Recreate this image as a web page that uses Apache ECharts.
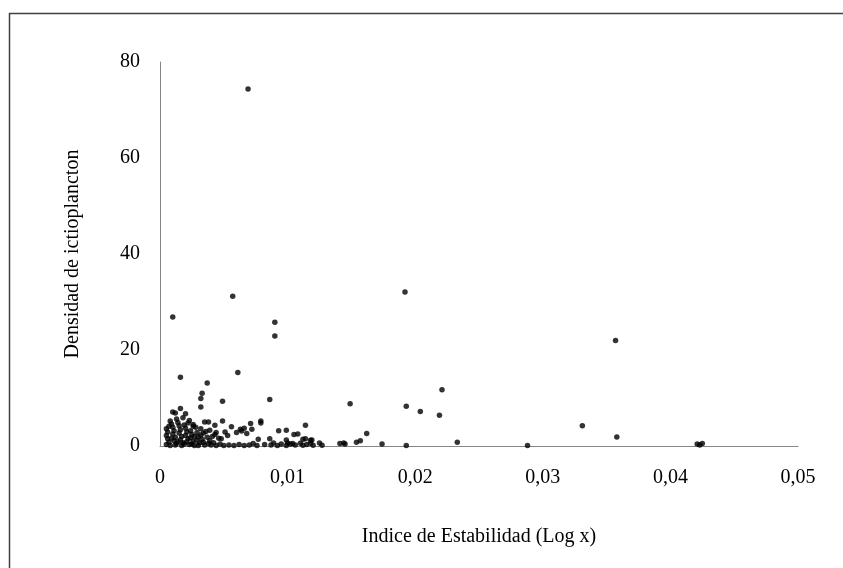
<!DOCTYPE html>
<html>
<head>
<meta charset="utf-8">
<script src="https://cdn.jsdelivr.net/npm/echarts@6/dist/echarts.min.js"></script>
<style>
html, body { margin: 0; padding: 0; background: #fff; }
#main { width: 843px; height: 568px; }
</style>
</head>
<body>
<div id="main"></div>
<script>
// ejes
var xTicks = [0, 0.01, 0.02, 0.03, 0.04, 0.05];
var yTicks = [0, 20, 40, 60, 80];

// puntos aislados (valores altos)
var highX = [0.0069, 0.0010, 0.0057, 0.0090, 0.0090, 0.0192, 0.0357, 0.0221, 0.0193, 0.0204, 0.0219, 0.0331, 0.0358, 0.0149, 0.0016, 0.0061, 0.0037, 0.0033, 0.0032, 0.0032, 0.0049, 0.0086];
var highY = [74.4, 26.9, 31.2, 25.8, 22.9, 32.1, 22.0, 11.7, 8.3, 7.2, 6.4, 4.2, 1.9, 8.8, 14.3, 15.3, 13.1, 11.0, 9.9, 8.1, 9.3, 9.7];

// grupo denso cerca de cero
var lowX = [0.0005, 0.0006, 0.0005, 0.0006, 0.0007, 0.0005, 0.0008, 0.0009, 0.0010, 0.0011, 0.0010, 0.0012, 0.0011, 0.0013, 0.0012,
            0.0014, 0.0015, 0.0016, 0.0015, 0.0017, 0.0016, 0.0018, 0.0017, 0.0019, 0.0020, 0.0021, 0.0020, 0.0022, 0.0021, 0.0023,
            0.0024, 0.0025, 0.0024, 0.0026, 0.0025, 0.0027, 0.0028, 0.0029, 0.0030, 0.0029, 0.0031, 0.0030, 0.0032, 0.0033, 0.0034,
            0.0035, 0.0036, 0.0037, 0.0038, 0.0039, 0.0040, 0.0041, 0.0042, 0.0044, 0.0046, 0.0047, 0.0013, 0.0018, 0.0008, 0.0022,
            0.0026, 0.0032, 0.0007, 0.0019, 0.0014, 0.0009, 0.0027, 0.0034, 0.0039, 0.0010, 0.0012, 0.0016, 0.0020, 0.0023, 0.0026,
            0.0035, 0.0038, 0.0049, 0.0056, 0.0063, 0.0066, 0.0071, 0.0060, 0.0064, 0.0072, 0.0068, 0.0079, 0.0079, 0.0043, 0.0044,
            0.0043, 0.0051, 0.0053, 0.0048, 0.0093, 0.0099, 0.0086, 0.0077];
var lowY = [3.6, 2.9, 2.2, 1.5, 0.8, 0.3, 0.1, 4.6, 3.9, 3.2, 2.5, 1.8, 1.1, 0.5, 0.2,
            4.9, 4.2, 3.4, 2.7, 2.0, 1.3, 0.7, 0.1, 4.4, 3.7, 2.9, 2.2, 1.5, 0.9, 0.3,
            3.2, 2.4, 1.7, 1.0, 0.4, 0.1, 3.9, 2.8, 1.9, 1.2, 0.6, 0.1, 2.3, 1.4, 0.8,
            0.2, 3.0, 1.8, 0.5, 1.1, 0.2, 2.0, 0.7, 0.1, 1.6, 0.4, 5.6, 5.9, 5.2, 4.8,
            4.1, 3.6, 4.1, 0.4, 0.9, 1.6, 2.0, 2.7, 3.3, 7.1, 6.9, 7.8, 6.7, 5.3, 4.5,
            5.0, 5.0, 5.2, 4.0, 3.5, 3.7, 4.7, 2.8, 3.1, 3.5, 2.6, 5.2, 4.8, 4.3, 2.8,
            2.4, 2.9, 2.2, 1.5, 3.2, 3.3, 1.5, 1.4];

// puntos sobre el eje / x medios
var baseX = [0.0050, 0.0054, 0.0058, 0.0062, 0.0066, 0.0070, 0.0073, 0.0076, 0.0082, 0.0087, 0.0089, 0.0092, 0.0095, 0.0099, 0.0100,
             0.0114, 0.0099, 0.0105, 0.0108, 0.0112, 0.0114, 0.0118, 0.0119, 0.0102, 0.0104, 0.0106, 0.0110, 0.0112, 0.0115, 0.0118,
             0.0120, 0.0125, 0.0127, 0.0162, 0.0157, 0.0154, 0.0141, 0.0144, 0.0145, 0.0174, 0.0193, 0.0233, 0.0288, 0.0421, 0.0423, 0.0425];
var baseY = [0.1, 0.2, 0.1, 0.3, 0.1, 0.2, 0.5, 0.1, 0.3, 0.2, 0.6, 0.1, 0.4, 0.1, 0.6,
             4.3, 1.25, 2.4, 2.5, 1.4, 1.5, 1.2, 1.25, 0.4, 0.5, 0.2, 0.55, 0.15, 0.3, 0.55,
             0.15, 0.6, 0.15, 2.6, 1.1, 0.8, 0.5, 0.6, 0.4, 0.4, 0.1, 0.8, 0.1, 0.4, 0.2, 0.5];

function zip(xs, ys) {
    var out = [];
    for (var i = 0; i < xs.length; i++) out.push([xs[i], ys[i]]);
    return out;
}
var points = zip(highX, highY).concat(zip(lowX, lowY), zip(baseX, baseY));

var chart = echarts.init(document.getElementById('main'));
var txt = { fontFamily: 'Liberation Serif', fontSize: 20, color: '#000' };
var option = {
    animation: false,
    backgroundColor: '#fff',
    graphic: [{
        type: 'rect',
        shape: { x: 9.5, y: 13.5, width: 900, height: 700 },
        style: { fill: 'none', stroke: '#404040', lineWidth: 1.5 },
        silent: true
    }],
    grid: { left: 160, right: 45, top: 62, bottom: 122 },
    xAxis: {
        type: 'value',
        min: xTicks[0],
        max: xTicks[xTicks.length - 1],
        interval: 0.01,
        name: 'Indice de Estabilidad (Log x)',
        nameLocation: 'middle',
        nameGap: 81,
        nameTextStyle: txt,
        axisLine: { lineStyle: { color: '#868686', width: 1 } },
        axisTick: { show: false },
        splitLine: { show: false },
        axisLabel: {
            margin: 22,
            fontFamily: txt.fontFamily, fontSize: txt.fontSize, color: '#000',
            formatter: function (v) { return String(+v.toFixed(2)).replace('.', ','); }
        }
    },
    yAxis: {
        type: 'value',
        min: yTicks[0],
        max: yTicks[yTicks.length - 1],
        interval: 20,
        name: 'Densidad de ictioplancton',
        nameLocation: 'middle',
        nameGap: 77,
        nameTextStyle: txt,
        axisLine: { show: true, lineStyle: { color: '#868686', width: 1 } },
        axisTick: { show: false },
        splitLine: { show: false },
        axisLabel: { margin: 20, fontFamily: txt.fontFamily, fontSize: txt.fontSize, color: '#000' }
    },
    series: [{
        type: 'scatter',
        data: points,
        symbolSize: 5.5,
        itemStyle: { color: '#000' }
    }]
};
chart.setOption(option);
</script>
</body>
</html>
